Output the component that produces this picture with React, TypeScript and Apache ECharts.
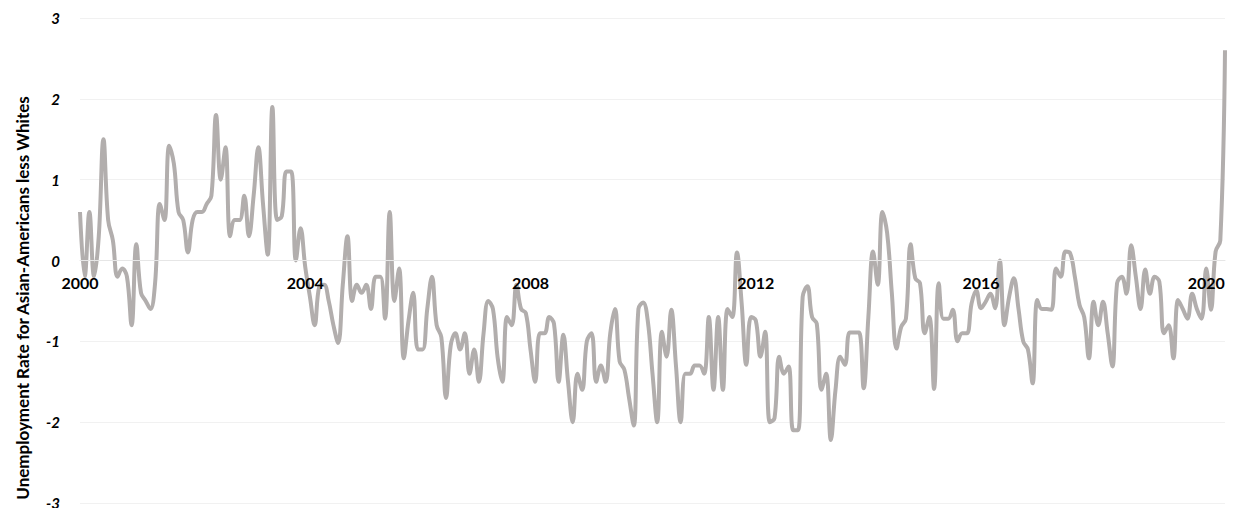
import React, { useEffect, useRef } from "react";
import * as echarts from "echarts";

// Monthly difference: Asian-American unemployment rate minus White unemployment rate (pp), Jan 2000 – May 2020
const startYear = 2000;
const gapValues: number[] = [
  // 2000
  0.6, -0.2, 0.6, -0.2, 0.3, 1.5, 0.5, 0.25, -0.2, -0.1, -0.2, -0.8,
  // 2001
  0.2, -0.4, -0.5, -0.6, -0.28, 0.7, 0.5, 1.42, 1.2, 0.6, 0.5, 0.1,
  // 2002
  0.5, 0.6, 0.6, 0.7, 0.8, 1.8, 1.0, 1.4, 0.3, 0.5, 0.5, 0.8,
  // 2003
  0.3, 0.8, 1.4, 0.7, 0.07, 1.9, 0.5, 0.55, 1.1, 1.1, 0.0, 0.4,
  // 2004
  -0.08, -0.45, -0.8, -0.32, -0.3, -0.5, -0.8, -1.02, -0.3, 0.3, -0.5, -0.3,
  // 2005
  -0.4, -0.3, -0.6, -0.2, -0.2, -0.72, 0.6, -0.5, -0.1, -1.21, -0.75, -0.4,
  // 2006
  -1.1, -1.1, -0.6, -0.2, -0.8, -0.95, -1.7, -1.05, -0.9, -1.1, -0.9, -1.4,
  // 2007
  -1.1, -1.5, -0.9, -0.5, -0.6, -1.2, -1.5, -0.7, -0.8, -0.3, -0.6, -0.65,
  // 2008
  -1.1, -1.5, -0.9, -0.9, -0.7, -0.78, -1.5, -0.92, -1.5, -2.0, -1.4, -1.6,
  // 2009
  -1.0, -0.9, -1.5, -1.3, -1.5, -0.9, -0.6, -1.25, -1.35, -1.7, -2.04, -0.6,
  // 2010
  -0.52, -0.75, -1.4, -2.0, -0.88, -1.19, -0.61, -1.3, -2.0, -1.4, -1.4, -1.3,
  // 2011
  -1.3, -1.4, -0.7, -1.6, -0.7, -1.6, -0.6, -0.7, 0.1, -0.53, -1.29, -0.7,
  // 2012
  -0.74, -1.19, -0.88, -2.0, -1.95, -1.19, -1.4, -1.31, -2.1, -2.1, -0.45, -0.32,
  // 2013
  -0.7, -0.78, -1.6, -1.4, -2.22, -1.6, -1.19, -1.29, -0.89, -0.89, -0.89, -1.58,
  // 2014
  -0.7, 0.11, -0.3, 0.6, 0.34, -0.4, -1.09, -0.82, -0.72, 0.2, -0.22, -0.28,
  // 2015
  -0.9, -0.7, -1.59, -0.28, -0.72, -0.72, -0.61, -1.0, -0.9, -0.9, -0.53, -0.37,
  // 2016
  -0.59, -0.51, -0.41, -0.59, 0.0, -0.8, -0.45, -0.22, -0.6, -1.0, -1.1, -1.52,
  // 2017
  -0.49, -0.6, -0.6, -0.61, -0.1, -0.2, 0.11, 0.09, -0.2, -0.55, -0.7, -1.21,
  // 2018
  -0.51, -0.8, -0.51, -0.9, -1.31, -0.28, -0.2, -0.41, 0.19, -0.2, -0.6, -0.11,
  // 2019
  -0.41, -0.2, -0.26, -0.9, -0.8, -1.21, -0.49, -0.6, -0.72, -0.41, -0.6, -0.72,
  // 2020
  -0.1, -0.61, 0.11, 0.25, 2.6,
];

const months: string[] = gapValues.map((_, i) => {
  const y = startYear + Math.floor(i / 12);
  const m = (i % 12) + 1;
  return `${y}-${m < 10 ? "0" + m : m}`;
});

const yTicks = [-3, -2, -1, 0, 1, 2, 3];
const yTitle = "Unemployment Rate for Asian-Americans less Whites";
const FONT = "Lato, 'Open Sans', sans-serif";

const GRID_TOP = 18;
const GRID_BOTTOM = 5;
const H = 508;

export default function App() {
  const ref = useRef<HTMLDivElement>(null);

  useEffect(() => {
    if (!ref.current) return;
    const chart = echarts.init(ref.current, null, { renderer: "svg" });
    const plotH = H - GRID_TOP - GRID_BOTTOM;
    const yMin = yTicks[0];
    const yMax = yTicks[yTicks.length - 1];
    // distance from the bottom of the plot to the zero line
    const zeroOffset = (plotH * (0 - yMin)) / (yMax - yMin);
    chart.setOption({
      animation: false,
      backgroundColor: "#ffffff",
      grid: {
        left: 80,
        right: 8,
        top: GRID_TOP,
        bottom: GRID_BOTTOM,
        containLabel: false,
        outerBoundsMode: "none",
      },
      xAxis: {
        type: "category",
        data: months,
        boundaryGap: false,
        position: "bottom",
        offset: -zeroOffset,
        z: 10,
        axisLine: { show: true, onZero: false, lineStyle: { color: "#e6e6e6", width: 1 } },
        axisTick: { show: false },
        splitLine: { show: false },
        axisLabel: {
          interval: (idx: number) => idx % 48 === 0,
          formatter: (v: string) => v.slice(0, 4),
          color: "#000000",
          fontFamily: FONT,
          fontWeight: "bold",
          fontSize: 16,
          margin: 14,
        },
      },
      yAxis: {
        type: "value",
        min: yMin,
        max: yMax,
        interval: 1,
        axisLine: { show: false },
        axisTick: { show: false },
        splitLine: { show: true, lineStyle: { color: "#f1f1f1", width: 1 } },
        axisLabel: {
          color: "#000000",
          fontFamily: FONT,
          fontWeight: "bold",
          fontStyle: "italic",
          fontSize: 15,
          margin: 20,
          padding: [0, 0, 3, 0],
        },
      },
      graphic: [
        {
          type: "text",
          x: 22,
          y: 298,
          rotation: Math.PI / 2,
          style: {
            text: yTitle,
            fill: "#000000",
            font: `bold 17px ${FONT}`,
            textAlign: "center",
            textVerticalAlign: "middle",
          },
        },
      ],
      series: [
        {
          type: "line",
          z: 2,
          data: gapValues,
          smooth: 0.4,
          showSymbol: false,
          symbol: "none",
          lineStyle: { color: "#b2aead", width: 4 },
        },
      ],
    });
    return () => chart.dispose();
  }, []);

  return (
    <div
      ref={ref}
      style={{ position: "fixed", left: 0, top: 0, width: 1233, height: 508 }}
    />
  );
}
